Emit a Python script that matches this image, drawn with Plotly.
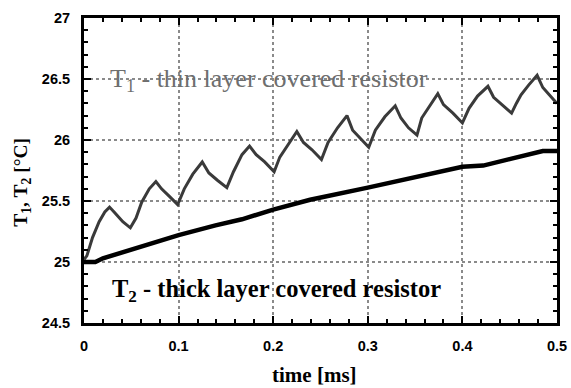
import plotly.graph_objects as go

# T1 - thin layer covered resistor
t1_time = [0, 0.003, 0.009, 0.016, 0.022, 0.027, 0.033, 0.041, 0.049, 0.055, 0.061, 0.069, 0.076,
           0.082, 0.09, 0.099, 0.106, 0.115, 0.125, 0.132, 0.141, 0.151, 0.158, 0.167, 0.175,
           0.182, 0.191, 0.201, 0.207, 0.216, 0.225, 0.232, 0.241, 0.251, 0.258, 0.268, 0.278,
           0.284, 0.292, 0.301, 0.308, 0.318, 0.329, 0.335, 0.343, 0.352, 0.357, 0.366, 0.374,
           0.38, 0.39, 0.400, 0.407, 0.416, 0.427, 0.433, 0.442, 0.452, 0.457, 0.462, 0.47,
           0.479, 0.485, 0.492, 0.5]
t1_temp = [25.02, 25.05, 25.20, 25.33, 25.41, 25.45, 25.40, 25.33, 25.28, 25.36, 25.49, 25.60, 25.66,
           25.60, 25.54, 25.47, 25.60, 25.72, 25.82, 25.73, 25.67, 25.61, 25.74, 25.88, 25.95,
           25.88, 25.82, 25.74, 25.86, 25.97, 26.07, 25.98, 25.92, 25.84, 25.98, 26.10, 26.20,
           26.08, 26.01, 25.94, 26.08, 26.19, 26.28, 26.18, 26.10, 26.04, 26.18, 26.29, 26.38,
           26.29, 26.22, 26.14, 26.26, 26.36, 26.44, 26.35, 26.29, 26.22, 26.30, 26.37, 26.45,
           26.53, 26.43, 26.37, 26.30]

# T2 - thick layer covered resistor
t2_time = [0, 0.012, 0.02, 0.05, 0.079, 0.1, 0.139, 0.167, 0.2, 0.239, 0.3, 0.355, 0.4, 0.422,
           0.461, 0.485, 0.5]
t2_temp = [25.0, 25.0, 25.03, 25.10, 25.17, 25.22, 25.30, 25.35, 25.43, 25.51, 25.61, 25.70, 25.78,
           25.79, 25.86, 25.91, 25.91]

x_ticks = [0, 0.1, 0.2, 0.3, 0.4, 0.5]
x_ticklabels = ["0", "0.1", "0.2", "0.3", "0.4", "0.5"]
y_ticks = [24.5, 25, 25.5, 26, 26.5, 27]
y_ticklabels = ["24.5", "25", "25.5", "26", "26.5", "27"]

label_t1 = "T<sub>1</sub> - thin layer covered resistor"
label_t2 = "T<sub>2</sub> - thick layer covered resistor"
x_title = "time [ms]"
y_title = "T<sub>1</sub>, T<sub>2</sub> [°C]"

serif = "Liberation Serif, Times New Roman, serif"
sans = "Liberation Sans, Arial, sans-serif"

fig = go.Figure()
fig.add_trace(go.Scatter(x=t1_time, y=t1_temp, mode="lines",
                         line=dict(color="#3a3a3a", width=3), showlegend=False))
fig.add_trace(go.Scatter(x=t2_time, y=t2_temp, mode="lines",
                         line=dict(color="black", width=4.5), showlegend=False))

axis_common = dict(
    showline=True, linecolor="black", linewidth=3, mirror="ticks",
    ticks="inside", ticklen=7, tickwidth=2, tickcolor="black",
    showgrid=True, gridcolor="#8a8a8a", griddash="dot", gridwidth=2,
    zeroline=False, automargin=False,
    tickfont=dict(family=sans, size=14.5, color="black", weight="bold"),
)

fig.update_xaxes(range=[0, 0.5], tickvals=x_ticks, ticktext=x_ticklabels,
                 minor=dict(dtick=0.02, tick0=0, ticks="inside", ticklen=4, tickwidth=2,
                            tickcolor="black", showgrid=False),
                 ticklabelstandoff=8, **axis_common)
fig.update_yaxes(range=[24.5, 27], tickvals=y_ticks, ticktext=y_ticklabels,
                 minor=dict(dtick=0.1, tick0=24.5, ticks="inside", ticklen=4, tickwidth=2,
                            tickcolor="black", showgrid=False),
                 ticklabelstandoff=8, **axis_common)

fig.add_annotation(x=0.025, y=26.49, xref="x", yref="y", text=label_t1, showarrow=False,
                   xanchor="left", yanchor="middle",
                   font=dict(family=serif, size=26, color="#6e6e6e"))
fig.add_annotation(x=0.027, y=24.77, xref="x", yref="y", text=label_t2, showarrow=False,
                   xanchor="left", yanchor="middle",
                   font=dict(family=serif, size=24.5, color="black", weight="bold"))
fig.add_annotation(x=0.244, y=-0.172, xref="x", yref="paper", text=x_title, showarrow=False,
                   xanchor="center", yanchor="middle",
                   font=dict(family=serif, size=21, color="black", weight="bold"))
fig.add_annotation(x=-0.131, y=25.65, xref="paper", yref="y", text=y_title, showarrow=False,
                   xanchor="center", yanchor="middle", textangle=-90,
                   font=dict(family=serif, size=19.5, color="black", weight="bold"))

fig.update_layout(
    width=571, height=388,
    margin=dict(l=84, r=14, t=18, b=65),
    paper_bgcolor="white", plot_bgcolor="white",
)

fig.write_html("out.html")
